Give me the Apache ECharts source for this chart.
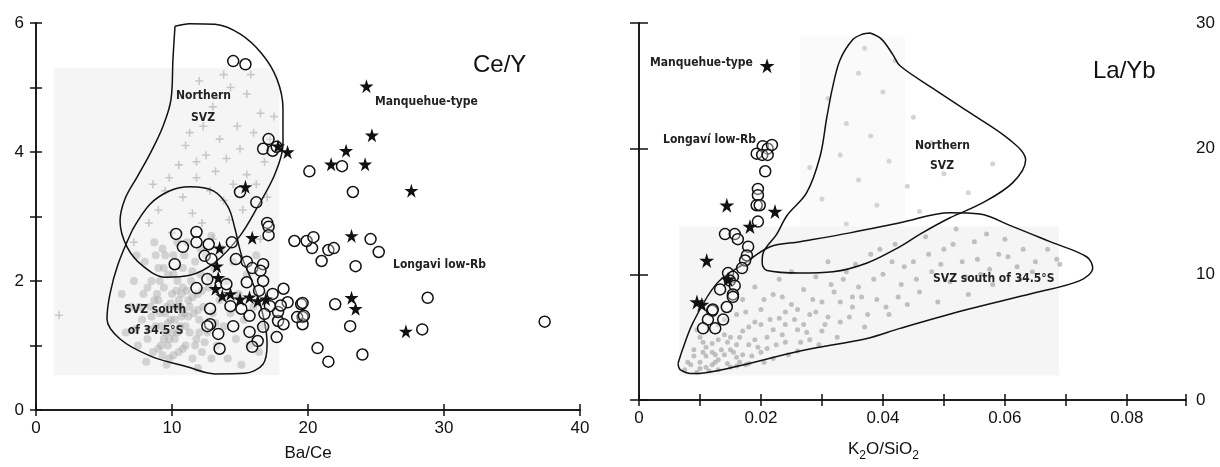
<!DOCTYPE html>
<html>
<head>
<meta charset="utf-8">
<script src="https://cdn.jsdelivr.net/npm/echarts@6/dist/echarts.min.js"></script>
<style>
  html, body { margin: 0; padding: 0; background: #fff; }
  #chart { width: 1220px; height: 467px; }
</style>
</head>
<body>
<div id="chart"></div>
<script>
  // left panel: Ce/Y vs Ba/Ce
  const ceyNorthernField = [
    [10.22, 5.95], [11.3, 5.99], [13.16, 5.98], [15.0, 5.83], [16.62, 5.52], [17.72, 5.13],
    [18.16, 4.67], [18.16, 4.12], [17.57, 3.66], [16.32, 3.16], [15.0, 2.70], [13.16, 2.29],
    [11.32, 2.09], [9.49, 2.06], [7.87, 2.23], [6.69, 2.53], [6.18, 2.93], [6.54, 3.27],
    [7.43, 3.61], [8.38, 3.97], [9.34, 4.40], [9.93, 4.82], [10.07, 5.44], [10.22, 5.95]
  ]
  const ceySouthField = [
    [7.06, 2.78], [8.38, 3.19], [9.85, 3.40], [11.32, 3.46], [13.01, 3.40], [14.12, 3.15],
    [14.63, 2.81], [15.15, 2.37], [16.1, 1.88], [16.76, 1.41], [16.99, 1.02], [16.69, 0.71],
    [15.37, 0.57], [13.16, 0.56], [11.1, 0.67], [8.38, 0.84], [6.18, 1.10], [5.22, 1.41],
    [5.44, 1.80], [6.03, 2.26], [7.06, 2.78]
  ]
  const ceyNorthernCrosses = [
    [14.3, 5.0], [15.5, 4.9], [13.0, 4.7], [16.5, 4.6], [17.5, 4.55], [12.3, 4.4], [14.8, 4.4],
    [16.0, 4.3], [13.5, 4.2], [11.0, 4.1], [15.0, 4.05], [12.5, 3.95], [14.0, 3.9], [16.8, 3.85],
    [10.5, 3.8], [13.2, 3.7], [15.5, 3.65], [11.8, 3.6], [14.5, 3.5], [9.5, 3.4], [12.8, 3.4],
    [16.2, 3.5], [10.8, 3.3], [13.8, 3.25], [9.0, 3.1], [11.5, 3.05], [15.2, 3.1], [8.3, 2.9],
    [12.2, 2.9], [14.2, 2.95], [10.0, 2.75], [13.0, 2.65], [16.5, 2.65], [11.3, 4.3], [17.2, 4.2],
    [13.8, 5.2], [12.0, 5.1], [9.8, 3.6], [15.8, 5.2], [11.8, 3.85], [17.0, 3.3], [7.2, 2.6],
    [8.6, 3.5], [1.7, 1.47]
  ]
  const ceySouthDots = [
    [6.6, 1.2], [7.0, 1.6], [7.2, 2.0], [7.5, 1.0], [7.8, 1.4], [7.9, 1.8], [8.0, 2.3], [8.2, 1.1],
    [8.4, 1.6], [8.5, 2.0], [8.6, 0.9], [8.8, 1.3], [8.9, 1.8], [9.0, 2.2], [9.1, 1.5], [9.2, 1.0],
    [9.3, 2.5], [9.4, 1.9], [9.5, 1.2], [9.6, 1.6], [9.7, 2.1], [9.8, 0.8], [9.9, 1.4], [10.0, 1.8],
    [10.1, 2.4], [10.2, 1.1], [10.3, 1.6], [10.4, 2.0], [10.5, 0.9], [10.6, 1.3], [10.7, 1.8],
    [10.8, 2.2], [10.9, 1.5], [11.0, 1.0], [11.1, 2.6], [11.2, 1.7], [11.3, 1.2], [11.4, 2.0],
    [11.5, 0.8], [11.6, 1.5], [11.7, 2.3], [11.8, 1.1], [11.9, 1.8], [12.0, 1.4], [12.1, 2.1],
    [12.2, 0.9], [12.3, 1.6], [12.5, 2.4], [12.6, 1.2], [12.7, 1.9], [12.9, 0.8], [13.0, 1.5],
    [13.1, 2.2], [13.3, 1.0], [13.5, 1.7], [13.6, 2.5], [13.8, 1.3], [14.0, 2.0], [14.1, 0.8],
    [14.3, 1.5], [14.5, 2.3], [14.7, 1.1], [14.9, 1.8], [15.1, 0.7], [15.3, 1.4], [15.5, 2.1],
    [15.7, 1.0], [16.0, 1.6], [16.2, 2.4], [16.4, 0.9], [16.6, 1.3], [8.7, 2.6], [10.4, 2.6],
    [12.9, 2.7], [7.4, 2.4], [6.3, 1.8], [9.6, 0.7], [11.9, 0.65], [8.1, 0.75],
    [9.2, 1.3], [9.8, 1.1], [10.2, 1.4], [10.6, 1.6], [11.0, 1.3], [9.5, 1.5], [10.0, 1.2],
    [8.5, 1.45], [9.0, 1.7], [9.4, 2.2], [10.1, 2.1], [10.8, 1.9], [11.5, 1.75], [12.2, 1.85],
    [9.7, 1.0], [10.4, 1.2], [11.2, 1.45], [8.2, 1.9], [12.0, 1.2], [10.8, 0.95], [9.3, 0.85],
    [8.3, 1.25], [8.7, 1.7], [9.1, 2.0], [9.5, 2.4], [9.9, 1.65], [10.3, 1.85], [10.7, 1.45],
    [11.1, 1.85], [11.5, 2.15], [11.9, 1.55], [12.4, 1.05], [12.8, 2.05], [13.2, 1.35], [9.0, 0.95],
    [10.1, 0.85], [8.8, 2.4], [7.6, 1.6], [7.3, 1.25], [12.1, 2.5], [10.9, 2.4], [9.4, 1.1],
    [11.7, 1.0], [10.5, 1.7], [9.7, 1.35], [11.3, 1.6]
  ]
  const ceyManquehue = [
    [24.3, 5.02], [24.7, 4.26], [22.8, 4.02], [21.7, 3.81], [24.2, 3.81], [27.6, 3.4], [17.8, 4.09],
    [18.5, 4.0], [15.4, 3.46], [15.9, 2.67], [13.5, 2.51], [13.3, 2.23], [23.2, 2.70], [23.2, 1.74],
    [23.5, 1.57], [27.2, 1.22], [13.2, 1.88], [13.7, 1.77], [14.3, 1.80], [15.0, 1.72], [15.7, 1.75],
    [16.3, 1.69], [16.9, 1.72], [13.4, 2.05]
  ]
  const ceyLongavi = [
    [14.5, 5.41], [15.4, 5.36], [17.1, 4.2], [16.7, 4.05], [17.4, 4.02], [17.7, 4.08], [15.0, 3.38],
    [16.2, 3.22], [20.1, 3.7], [22.5, 3.78], [23.3, 3.38], [17.0, 2.90], [17.1, 2.84], [17.1, 2.71],
    [24.6, 2.65], [25.2, 2.45], [23.5, 2.23], [21.0, 2.31], [21.5, 2.48], [21.9, 2.51], [20.3, 2.51],
    [19.9, 2.62], [20.4, 2.68], [19.0, 2.62], [28.8, 1.74], [22.0, 1.64], [23.1, 1.30], [28.4, 1.25],
    [37.4, 1.37], [20.7, 0.96], [21.5, 0.75], [24.0, 0.86], [19.5, 1.64], [19.6, 1.44], [19.6, 1.33],
    [10.3, 2.73], [10.8, 2.53], [11.8, 2.76], [11.8, 2.60], [12.7, 2.57], [14.4, 2.60], [10.2, 2.26],
    [12.4, 2.39], [12.9, 2.34], [14.7, 2.34], [15.5, 2.30], [15.9, 2.20], [16.7, 2.26], [16.5, 2.16],
    [12.6, 2.03], [16.7, 2.0], [11.8, 1.89], [15.5, 1.98], [18.2, 1.88], [19.6, 1.66], [19.2, 1.44],
    [19.7, 1.46], [17.8, 1.38], [18.2, 1.33], [18.5, 1.67], [17.8, 1.52], [17.2, 1.61], [16.8, 1.49],
    [15.7, 1.46], [15.1, 1.57], [14.3, 1.61], [12.8, 1.57], [12.8, 1.33], [13.4, 1.18], [13.5, 0.95],
    [14.5, 1.30], [15.7, 1.21], [16.7, 1.29], [17.7, 1.13], [16.3, 1.07], [15.9, 0.98], [12.6, 1.30],
    [16.4, 1.85], [17.4, 1.80], [14.0, 1.95], [18.0, 1.62]
  ]

  // right panel: La/Yb vs K2O/SiO2
  const labNorthernField = [
    [0.0379, 29.2], [0.0398, 28.7], [0.0416, 27.5], [0.0428, 26.6], [0.0482, 24.8], [0.0538, 23.0],
    [0.0608, 20.7], [0.0634, 19.1], [0.0613, 17.3], [0.0564, 15.7], [0.0510, 14.5], [0.0461, 13.2],
    [0.0428, 12.2], [0.0374, 10.9], [0.0318, 10.2], [0.0264, 10.1], [0.0210, 10.3], [0.0202, 10.9],
    [0.0203, 11.6], [0.0226, 13.2], [0.0243, 14.7], [0.0275, 16.5], [0.0297, 19.4], [0.0308, 22.5],
    [0.0318, 25.0], [0.0330, 27.1], [0.0351, 28.7], [0.0366, 29.1], [0.0379, 29.2]
  ]
  const labSouthField = [
    [0.0064, 2.9], [0.0068, 2.4], [0.0089, 2.1], [0.0154, 2.6], [0.0264, 3.9], [0.0374, 4.9],
    [0.0428, 5.7], [0.0538, 7.2], [0.0646, 8.5], [0.0723, 9.5], [0.0744, 10.5], [0.0734, 11.4],
    [0.0674, 12.6], [0.0608, 13.9], [0.0559, 14.8], [0.0510, 14.9], [0.0428, 14.1], [0.0346, 13.3],
    [0.0264, 12.6], [0.0215, 12.2], [0.0174, 10.9], [0.0128, 9.3], [0.0089, 6.2], [0.0072, 4.1],
    [0.0064, 2.9]
  ]
  const labDots = [
    [0.008, 3.0], [0.009, 4.0], [0.010, 2.5], [0.010, 5.0], [0.011, 3.5], [0.012, 2.8], [0.012, 4.5],
    [0.013, 6.0], [0.013, 3.2], [0.014, 5.2], [0.015, 2.6], [0.015, 4.0], [0.016, 6.8], [0.016, 3.4],
    [0.017, 5.5], [0.017, 8.0], [0.018, 4.4], [0.018, 2.9], [0.019, 6.2], [0.019, 9.0], [0.020, 3.8],
    [0.020, 7.2], [0.021, 5.0], [0.022, 8.4], [0.022, 3.3], [0.023, 6.5], [0.023, 9.6], [0.024, 4.6],
    [0.025, 7.6], [0.025, 10.2], [0.026, 5.6], [0.026, 3.9], [0.027, 8.8], [0.028, 6.8], [0.028, 4.8],
    [0.029, 9.8], [0.030, 7.8], [0.030, 5.5], [0.031, 11.0], [0.032, 8.6], [0.033, 6.2], [0.034, 10.2],
    [0.035, 7.4], [0.036, 9.0], [0.037, 5.8], [0.038, 11.6], [0.039, 8.0], [0.040, 10.0], [0.041, 6.8],
    [0.042, 12.4], [0.043, 9.2], [0.044, 7.6], [0.045, 11.0], [0.046, 8.6], [0.047, 13.0], [0.048, 10.2],
    [0.049, 7.8], [0.050, 12.0], [0.051, 9.4], [0.052, 13.6], [0.053, 11.0], [0.054, 8.4], [0.055, 12.6],
    [0.056, 10.0], [0.057, 13.2], [0.058, 9.2], [0.059, 11.6], [0.060, 12.8], [0.062, 10.6], [0.063, 12.0],
    [0.065, 11.0], [0.067, 12.0], [0.069, 10.8],
    [0.009, 3.5], [0.010, 3.0], [0.011, 4.2], [0.011, 2.6], [0.012, 3.8], [0.013, 4.8], [0.013, 2.4],
    [0.014, 3.6], [0.014, 6.4], [0.015, 5.0], [0.016, 4.4], [0.016, 2.7], [0.017, 3.6], [0.018, 5.8],
    [0.019, 4.8], [0.020, 6.0], [0.021, 4.1], [0.022, 5.6], [0.024, 6.0], [0.024, 7.0], [0.026, 7.2],
    [0.027, 6.0], [0.029, 7.0], [0.031, 6.6], [0.033, 7.8], [0.035, 8.2],
    [0.0075, 2.4], [0.0085, 2.8], [0.0095, 2.2], [0.0105, 3.8], [0.0115, 2.3], [0.0125, 3.0],
    [0.0135, 4.0], [0.0145, 2.9], [0.0155, 3.8], [0.0165, 5.0], [0.0175, 2.8], [0.0185, 3.5],
    [0.0195, 4.2], [0.0205, 3.0], [0.0215, 6.4], [0.0225, 4.4], [0.0235, 5.2], [0.0245, 3.6],
    [0.0255, 6.4], [0.0265, 4.6], [0.0275, 5.4], [0.0285, 8.0], [0.0295, 4.4], [0.0305, 6.0],
    [0.0315, 9.2], [0.0325, 5.0], [0.0335, 9.6], [0.0345, 6.6], [0.0355, 10.8], [0.0365, 8.2],
    [0.0375, 6.8], [0.0385, 9.6], [0.0395, 12.0], [0.0405, 7.4], [0.0415, 11.0], [0.0425, 8.2],
    [0.0435, 10.6], [0.0455, 9.6], [0.0475, 11.6], [0.0495, 10.8], [0.0515, 12.4], [0.0535, 9.8],
    [0.0555, 11.2], [0.0575, 10.4], [0.0605, 11.4], [0.0625, 9.6], [0.0645, 10.2], [0.0685, 11.2],
    [0.0095, 5.6], [0.0105, 4.6], [0.0175, 7.0], [0.0205, 8.0], [0.0235, 8.2], [0.0125, 3.6],
    [0.0145, 4.6], [0.0165, 3.0]
  ]
  const labNorthernDots = [
    [0.031, 24.0], [0.036, 26.0], [0.040, 24.5], [0.034, 22.0], [0.038, 21.0], [0.045, 22.5],
    [0.041, 19.0], [0.048, 20.5], [0.033, 19.5], [0.036, 17.5], [0.044, 17.0], [0.050, 18.0],
    [0.030, 16.0], [0.039, 15.5], [0.046, 15.0], [0.054, 16.5], [0.034, 14.0], [0.058, 18.8],
    [0.028, 18.5], [0.042, 27.0], [0.037, 28.0]
  ]
  const labManquehue = [
    [0.0210, 26.6], [0.0144, 15.5], [0.0223, 15.0], [0.0182, 13.8], [0.0111, 11.1], [0.0146, 9.6],
    [0.0095, 7.8], [0.0103, 7.6]
  ]
  const labLongavi = [
    [0.0203, 20.2], [0.0211, 20.0], [0.0218, 20.3], [0.0193, 19.6], [0.0202, 19.5], [0.0211, 19.5],
    [0.0207, 18.2], [0.0195, 16.8], [0.0195, 16.3], [0.0193, 15.5], [0.0198, 15.5], [0.0195, 14.2],
    [0.0141, 13.2], [0.0157, 13.2], [0.0162, 12.8], [0.0179, 12.2], [0.0177, 11.5], [0.0174, 11.1],
    [0.0169, 10.5], [0.0146, 10.1], [0.0154, 9.8], [0.0149, 9.5], [0.0157, 9.1], [0.0133, 8.8],
    [0.0154, 8.4], [0.0120, 7.1], [0.0144, 7.4], [0.0113, 6.4], [0.0105, 5.7], [0.0125, 5.7],
    [0.0138, 6.4], [0.0121, 7.2], [0.0154, 8.2]
  ]

  const crossPath = 'path://M4,0h2v4h4v2h-4v4h-2v-4h-4v-2h4z'
  const starPath = 'path://M50,0L61,35H98L68,57L79,92L50,70L21,92L32,57L2,35H39Z'
  const font = 'Liberation Sans, Arial, sans-serif'
  const narrow = 'Liberation Sans Narrow, DejaVu Sans Condensed, sans-serif'

  const tickStyle = { inside: true, length: 6, lineStyle: { color: '#111', width: 1.5 } }
  const lineStyle = { show: true, lineStyle: { color: '#111', width: 1.5 } }
  const label = { color: '#111', fontSize: 17, fontFamily: font }

  const field = (data, xi) => ({
    type: 'line', xAxisIndex: xi, yAxisIndex: xi, data: data, smooth: 0.35,
    showSymbol: false, symbol: 'none', silent: true, z: 3,
    lineStyle: { color: '#111', width: 1.5 }
  })
  const note = (x, y, text, lh) => ({
    type: 'text', left: x, top: y, z: 100,
    style: { text: text, font: 'bold 12px ' + narrow, fill: '#222', lineHeight: lh || 14 }
  })

  const chart = echarts.init(document.getElementById('chart'))
  chart.setOption({
    animation: false,
    grid: [
      { left: 36, top: 23, width: 544, height: 388 },
      { left: 639, top: 23, width: 547, height: 387 }
    ],
    xAxis: [
      {
        gridIndex: 0, type: 'value', min: 0, max: 40, interval: 10, position: 'bottom',
        axisLine: lineStyle, axisTick: tickStyle, splitLine: { show: false },
        axisLabel: Object.assign({ margin: 10 }, label),
        name: 'Ba/Ce', nameLocation: 'middle', nameGap: 35,
        nameTextStyle: { color: '#111', fontSize: 17, fontFamily: font }
      },
      {
        gridIndex: 0, type: 'value', min: 0, max: 40, interval: 10, position: 'top',
        axisLine: lineStyle, axisTick: tickStyle, splitLine: { show: false }, axisLabel: { show: false }
      },
      {
        gridIndex: 1, type: 'value', min: 0, max: 0.0897, interval: 0.01, position: 'bottom',
        axisLine: lineStyle, axisTick: tickStyle, splitLine: { show: false },
        axisLabel: Object.assign({
          margin: 10,
          formatter: v => {
            const k = Math.round(v * 100)
            if (Math.abs(v * 100 - k) > 0.05 || k % 2) return ''
            return k === 0 ? '0' : v.toFixed(2)
          }
        }, label),
        name: '{a|K}{s|2}{a|O/SiO}{s|2}', nameLocation: 'middle', nameGap: 36,
        nameTextStyle: {
          padding: [0, 58, 0, 0],
          rich: {
            a: { color: '#111', fontSize: 17, fontFamily: font, lineHeight: 22, verticalAlign: 'bottom' },
            s: { color: '#111', fontSize: 12, fontFamily: font, lineHeight: 22, verticalAlign: 'bottom', padding: [0, 0, -4, 0] }
          }
        }
      },
      {
        gridIndex: 1, type: 'value', min: 0, max: 0.0897, interval: 0.01, position: 'top',
        axisLine: lineStyle, axisTick: tickStyle, splitLine: { show: false }, axisLabel: { show: false }
      }
    ],
    yAxis: [
      {
        gridIndex: 0, type: 'value', min: 0, max: 6, interval: 1, position: 'left',
        axisLine: lineStyle, axisTick: tickStyle, splitLine: { show: false },
        axisLabel: Object.assign({ margin: 12, formatter: v => (v % 2 === 0 ? String(v) : '') }, label)
      },
      {
        gridIndex: 0, type: 'value', min: 0, max: 6, interval: 1, position: 'right',
        axisLine: lineStyle, axisTick: tickStyle, splitLine: { show: false }, axisLabel: { show: false }
      },
      {
        gridIndex: 1, type: 'value', min: 0, max: 30, interval: 10, position: 'right',
        axisLine: lineStyle, axisTick: Object.assign({}, tickStyle, { length: 9 }), splitLine: { show: false },
        axisLabel: Object.assign({ margin: 10 }, label)
      },
      {
        gridIndex: 1, type: 'value', min: 0, max: 30, interval: 10, position: 'left',
        axisLine: lineStyle, axisTick: Object.assign({}, tickStyle, { length: 9 }), splitLine: { show: false }, axisLabel: { show: false }
      }
    ],
    series: [
      {
        type: 'scatter', xAxisIndex: 0, yAxisIndex: 0, data: ceyNorthernCrosses, z: 1,
        symbol: crossPath, symbolSize: 8, itemStyle: { color: '#c8c8c8', opacity: 1 },
        markArea: {
          silent: true, itemStyle: { color: '#f5f5f5' },
          data: [[{ coord: [1.3, 5.3] }, { coord: [17.9, 0.54] }]]
        }
      },
      {
        type: 'scatter', xAxisIndex: 0, yAxisIndex: 0, data: ceySouthDots, z: 1,
        symbolSize: 8, itemStyle: { color: '#a8a8a8', opacity: 0.45 }
      },
      field(ceyNorthernField, 0),
      field(ceySouthField, 0),
      {
        type: 'scatter', xAxisIndex: 0, yAxisIndex: 0, data: ceyLongavi, z: 4,
        symbol: 'circle', symbolSize: 11,
        itemStyle: { color: 'rgba(255,255,255,0.35)', borderColor: '#111', borderWidth: 1.5, opacity: 1 }
      },
      {
        type: 'scatter', xAxisIndex: 0, yAxisIndex: 0, data: ceyManquehue, z: 5,
        symbol: starPath, symbolSize: 14, itemStyle: { color: '#111', opacity: 1 }
      },
      {
        type: 'scatter', xAxisIndex: 2, yAxisIndex: 2, data: labDots, z: 1,
        symbolSize: 5, itemStyle: { color: '#a8a8a8', opacity: 0.7 },
        markArea: {
          silent: true, itemStyle: { color: '#f5f5f5' },
          data: [
            [{ coord: [0.0066, 13.8] }, { coord: [0.0689, 1.94] }],
            [{ coord: [0.0264, 29.0] }, { coord: [0.0436, 13.8], itemStyle: { color: '#fafafa' } }]
          ]
        }
      },
      {
        type: 'scatter', xAxisIndex: 2, yAxisIndex: 2, data: labNorthernDots, z: 1,
        symbolSize: 5, itemStyle: { color: '#d4d4d4', opacity: 1 }
      },
      field(labNorthernField, 2),
      field(labSouthField, 2),
      {
        type: 'scatter', xAxisIndex: 2, yAxisIndex: 2, data: labLongavi, z: 4,
        symbol: 'circle', symbolSize: 11,
        itemStyle: { color: 'rgba(255,255,255,0.35)', borderColor: '#111', borderWidth: 1.5, opacity: 1 }
      },
      {
        type: 'scatter', xAxisIndex: 2, yAxisIndex: 2, data: labManquehue, z: 5,
        symbol: starPath, symbolSize: 15, itemStyle: { color: '#111', opacity: 1 }
      }
    ],
    graphic: [
      { type: 'text', left: 473, top: 53, z: 100, style: { text: 'Ce/Y', font: '24px ' + font, fill: '#111' } },
      { type: 'text', left: 1093, top: 59, z: 100, style: { text: 'La/Yb', font: '24px ' + font, fill: '#111' } },
      note(176, 85, 'Northern\n    SVZ', 22),
      note(124, 299, 'SVZ south\n of 34.5°S', 21),
      note(375, 95, 'Manquehue-type'),
      note(393, 258, 'Longavi low-Rb'),
      note(650, 56, 'Manquehue-type'),
      note(663, 133, 'Longaví low-Rb'),
      note(915, 136, 'Northern\n    SVZ', 20),
      note(933, 272, 'SVZ south of 34.5°S')
    ]
  })
</script>
</body>
</html>
